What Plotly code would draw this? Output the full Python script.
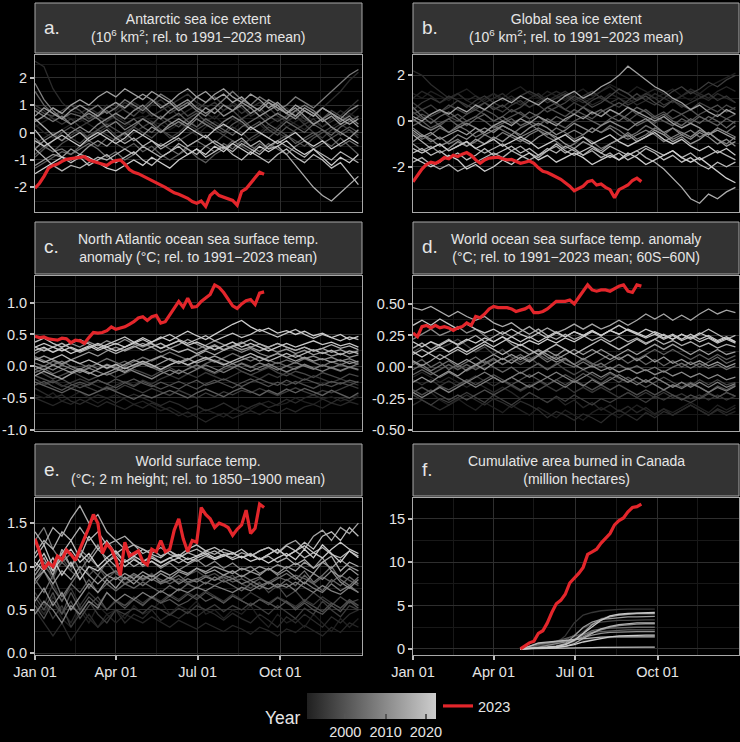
import numpy as np
import pandas as pd
import plotly.graph_objects as go

# ---------------------------------------------------------------------------
# Data (day of year)
# ---------------------------------------------------------------------------
GRAY_DAYS = list(range(1, 362, 10))          # Jan 01 .. Dec 27, every 10 days
RED_DAYS = list(range(1, 257, 5))            # 2023: Jan 01 .. Sep 13, every 5 days
FIRE_GRAY_DAYS = list(range(121, 272, 10))   # May 01 .. Sep 28
FIRE_RED_DAYS = list(range(121, 257, 5))     # May 01 .. Sep 13

# a. Antarctic sea ice extent anomaly
ant_ice_2023 = [-2.03, -1.85, -1.6, -1.3, -1.2, -1.15, -1.05, -0.98, -0.95, -0.92, -0.9, -0.88,
                -1.0, -1.05, -1.1, -1.15, -1.2, -1.08, -1.02, -1.0, -1.15, -1.35, -1.45, -1.5,
                -1.58, -1.65, -1.75, -1.82, -1.9, -2.0, -2.1, -2.2, -2.25, -2.32, -2.4, -2.52,
                -2.58, -2.5, -2.7, -2.3, -2.15, -2.3, -2.35, -2.4, -2.48, -2.65, -2.15, -2.05,
                -1.85, -1.65, -1.45, -1.52]
ant_ice_years = {
    1991: [0.2, 0.4, 0.6, 0.7, 0.5, 0.4, 0.6, 0.5, 0.3, 0.4, 0.2, 0.5, 0.6, 0.4, 0.3, 0.1, 0.3, 0.5, 0.2, 0.4, 0.6, 0.3, 0.1, 0.4, 0.2, 0.0, 0.3, 0.5, 0.2, 0.4, 0.6, 0.3, 0.5, 0.2, 0.4, 0.7, 0.5],
    1992: [0.3, 0.0, -0.2, 0.1, 0.3, 0.5, 0.3, 0.1, 0.4, 0.6, 0.4, 0.2, 0.5, 0.7, 0.5, 0.2, 0.4, 0.1, -0.1, 0.2, 0.4, 0.2, 0.5, 0.3, 0.1, 0.3, 0.0, 0.2, 0.5, 0.3, 0.1, 0.4, 0.2, 0.5, 0.8, 0.6, 0.9],
    1993: [2.6, 2.4, 1.6, 1.1, 0.8, 0.7, 0.9, 0.7, 1.0, 0.8, 1.1, 0.9, 0.7, 1.0, 1.2, 0.9, 0.6, 0.8, 1.0, 0.7, 0.5, 0.8, 1.1, 0.9, 0.6, 0.8, 0.5, 0.7, 0.9, 0.6, 0.4, 0.7, 0.9, 1.2, 1.5, 1.9, 2.2],
    1995: [1.0, 0.8, 0.5, 0.3, 0.5, 0.2, 0.4, 0.6, 0.4, 0.7, 0.9, 1.1, 0.9, 0.6, 0.8, 1.0, 1.2, 1.4, 1.1, 0.9, 1.1, 0.8, 1.0, 0.7, 0.9, 1.1, 0.9, 0.6, 0.4, 0.6, 0.3, 0.5, 0.2, 0.4, 0.6, 0.9, 1.2],
    1996: [-0.4, -0.2, 0.0, -0.3, -0.1, 0.1, -0.2, 0.0, 0.2, -0.1, -0.3, 0.0, 0.2, 0.4, 0.1, -0.2, 0.0, 0.3, 0.1, -0.2, -0.4, -0.1, 0.2, 0.0, -0.3, -0.1, 0.2, 0.0, -0.2, 0.1, 0.3, 0.0, -0.2, 0.1, 0.3, 0.1, -0.1],
    1998: [0.9, 0.7, 0.6, 0.8, 1.0, 0.8, 0.5, 0.7, 0.9, 1.1, 0.8, 0.6, 0.9, 1.2, 1.0, 0.7, 0.9, 0.6, 0.8, 1.1, 1.3, 1.0, 0.8, 0.5, 0.7, 0.9, 0.6, 0.4, 0.6, 0.8, 0.5, 0.3, 0.5, 0.8, 0.6, 0.4, 0.6],
    1999: [-0.8, -0.5, -0.7, -0.4, -0.2, -0.4, -0.1, 0.1, -0.1, -0.3, 0.0, 0.2, 0.0, -0.2, 0.1, -0.1, -0.3, -0.1, 0.1, 0.3, 0.1, -0.1, -0.3, -0.5, -0.2, 0.0, -0.2, 0.1, -0.1, -0.3, -0.5, -0.2, 0.0, 0.2, -0.1, 0.1, -0.2],
    2000: [-0.9, -0.6, -0.3, 0.0, 0.2, 0.0, -0.2, 0.1, 0.3, 0.1, -0.1, 0.2, 0.5, 0.3, 0.6, 0.4, 0.2, 0.5, 0.7, 0.4, 0.2, 0.0, 0.3, 0.5, 0.2, 0.4, 0.1, -0.1, 0.2, 0.0, -0.3, -0.1, 0.1, -0.2, 0.0, 0.2, 0.0],
    2002: [-1.3, -1.1, -0.9, -0.7, -0.8, -0.5, -0.3, -0.5, -0.2, -0.4, -0.6, -0.4, -0.7, -0.5, -0.8, -1.0, -0.8, -0.6, -0.9, -1.1, -0.8, -0.6, -0.3, -0.5, -0.7, -0.4, -0.6, -0.3, -0.1, -0.4, -0.2, 0.0, -0.3, -0.5, -0.2, -0.5, -0.8],
    2003: [1.5, 1.0, 0.7, 0.5, 0.7, 0.6, 0.4, 0.6, 0.8, 0.5, 0.3, 0.5, 0.2, 0.0, 0.3, 0.5, 0.7, 0.4, 0.2, 0.5, 0.3, 0.1, -0.1, 0.2, 0.4, 0.6, 0.3, 0.1, 0.4, 0.2, 0.0, 0.3, 0.1, -0.1, 0.2, 0.4, 0.6],
    2005: [-0.2, -0.5, -0.7, -0.6, -0.8, -0.6, -0.4, -0.6, -0.9, -0.7, -1.0, -0.8, -0.5, -0.7, -0.4, -0.6, -0.8, -0.5, -0.3, -0.5, -0.7, -0.4, -0.6, -0.3, -0.5, -0.7, -0.4, -0.6, -0.8, -0.5, -0.3, -0.6, -0.4, -0.2, -0.5, -0.3, -0.5],
    2007: [0.8, 0.6, 0.4, 0.6, 0.3, 0.5, 0.8, 1.0, 0.7, 0.9, 1.2, 1.0, 0.8, 1.1, 1.4, 1.2, 0.9, 1.1, 0.8, 0.6, 0.9, 1.2, 1.5, 1.2, 1.0, 1.3, 1.1, 0.8, 1.0, 1.3, 1.1, 0.9, 1.2, 1.5, 1.8, 2.1, 2.3],
    2008: [1.8, 1.2, 0.8, 0.5, 0.3, 0.5, 0.7, 0.5, 0.2, 0.4, 0.1, 0.3, 0.5, 0.3, 0.0, 0.2, 0.4, 0.2, 0.5, 0.3, 0.1, 0.4, 0.6, 0.4, 0.1, 0.3, 0.5, 0.7, 0.5, 0.8, 1.0, 0.8, 0.5, 0.7, 0.4, 0.6, 0.3],
    2010: [-0.6, -0.3, -0.1, -0.3, 0.0, 0.2, 0.0, 0.3, 0.5, 0.7, 0.5, 0.8, 1.0, 0.7, 0.5, 0.8, 1.0, 1.2, 0.9, 0.7, 0.9, 0.6, 0.8, 1.0, 0.7, 0.9, 1.2, 1.0, 0.7, 0.5, 0.8, 0.6, 0.9, 0.7, 0.5, 0.8, 1.0],
    2012: [-1.2, -1.0, -0.8, -0.9, -0.6, -0.8, -0.5, -0.3, -0.5, -0.2, 0.0, -0.3, -0.1, 0.2, 0.0, 0.3, 0.5, 0.3, 0.6, 0.9, 0.7, 1.0, 0.8, 1.1, 0.9, 0.6, 0.8, 1.0, 0.7, 0.9, 0.6, 0.3, 0.5, 0.2, 0.0, -0.2, 0.1],
    2013: [0.6, 0.9, 0.7, 0.5, 0.8, 1.0, 0.8, 0.6, 0.9, 1.1, 0.9, 1.2, 1.4, 1.2, 0.9, 1.1, 0.8, 1.0, 1.3, 1.1, 1.4, 1.6, 1.3, 1.1, 1.4, 1.2, 0.9, 1.1, 0.8, 0.6, 0.9, 0.7, 0.4, 0.6, 0.3, 0.5, 0.2],
    2014: [0.4, 0.6, 0.9, 0.7, 1.0, 1.2, 1.0, 1.3, 1.5, 1.3, 1.6, 1.4, 1.2, 1.5, 1.3, 1.1, 1.4, 1.6, 1.3, 1.5, 1.2, 1.4, 1.1, 1.3, 1.0, 0.8, 1.1, 0.9, 0.7, 1.0, 0.8, 0.6, 0.9, 0.7, 0.5, 0.3, 0.5],
    2016: [0.5, 0.2, -0.1, 0.1, -0.2, 0.0, -0.3, -0.1, 0.1, -0.2, -0.4, -0.2, -0.5, -0.3, -0.6, -0.4, -0.2, -0.5, -0.3, -0.1, -0.4, -0.6, -0.4, -0.2, -0.5, -0.3, -0.6, -0.5, -0.8, -1.2, -1.6, -2.0, -2.3, -2.5, -2.2, -1.9, -1.6],
    2017: [-0.6, -0.9, -1.2, -1.4, -1.2, -1.3, -1.1, -0.9, -1.0, -0.8, -0.6, -0.8, -0.5, -0.7, -0.9, -0.7, -0.4, -0.6, -0.8, -0.5, -0.3, -0.5, -0.7, -0.4, -0.6, -0.8, -0.5, -0.3, -0.5, -0.7, -0.9, -0.6, -0.8, -1.0, -0.7, -0.9, -1.1],
    2019: [0.1, -0.3, -0.6, -0.9, -1.1, -0.9, -1.2, -1.0, -0.8, -1.1, -0.9, -0.7, -1.0, -1.2, -0.9, -0.7, -0.5, -0.8, -0.6, -0.9, -0.7, -0.5, -0.8, -1.0, -0.7, -0.9, -1.1, -0.8, -0.6, -0.9, -1.1, -0.8, -1.0, -1.3, -1.1, -1.5, -1.9],
    2021: [-0.3, -0.5, -0.3, -0.1, -0.3, -0.5, -0.2, 0.0, -0.2, -0.4, -0.2, 0.1, -0.1, -0.3, -0.5, -0.3, -0.1, 0.2, 0.0, -0.2, 0.1, 0.3, 0.1, -0.1, 0.2, 0.0, -0.2, -0.4, -0.2, 0.0, -0.3, -0.5, -0.3, -0.6, -0.4, -0.2, -0.4],
    2022: [-1.5, -1.3, -1.1, -0.9, -1.0, -0.8, -0.9, -1.1, -1.3, -1.4, -1.2, -1.0, -1.2, -0.9, -1.1, -1.3, -1.0, -0.8, -0.6, -0.8, -0.5, -0.7, -0.4, -0.6, -0.8, -0.5, -0.7, -0.5, -0.3, -0.6, -0.8, -0.6, -0.9, -1.2, -0.9, -1.1, -0.8],
}

# b. Global sea ice extent anomaly
glob_ice_2023 = [-2.66, -2.35, -2.1, -1.9, -1.8, -1.85, -1.75, -1.6, -1.65, -1.5, -1.55, -1.45,
                 -1.38, -1.5, -1.7, -1.85, -1.7, -1.62, -1.6, -1.58, -1.65, -1.7, -1.68, -1.75,
                 -1.85, -1.8, -1.75, -1.85, -2.05, -2.2, -2.25, -2.35, -2.45, -2.55, -2.7, -2.85,
                 -3.05, -2.95, -2.85, -2.65, -2.6, -2.8, -2.75, -2.9, -3.0, -3.35, -3.0, -2.9,
                 -2.8, -2.6, -2.5, -2.65]
glob_ice_years = {
    1991: [1.2, 1.0, 1.3, 1.1, 0.9, 1.2, 1.4, 1.1, 0.9, 1.2, 1.0, 1.3, 1.5, 1.2, 1.0, 1.3, 1.1, 0.9, 1.2, 1.4, 1.1, 1.3, 1.6, 1.4, 1.2, 1.5, 1.3, 1.0, 1.2, 1.4, 1.1, 0.9, 1.2, 1.5, 1.7, 1.9, 2.1],
    1992: [1.0, 1.3, 1.1, 0.8, 1.0, 1.2, 0.9, 0.7, 1.0, 1.2, 0.9, 1.1, 0.8, 0.6, 0.9, 1.1, 1.3, 1.1, 0.8, 1.0, 0.7, 0.9, 1.2, 1.0, 0.8, 1.0, 1.2, 1.4, 1.2, 0.9, 1.1, 1.4, 1.2, 1.0, 1.3, 1.5, 1.3],
    1993: [2.2, 2.0, 1.6, 1.3, 1.0, 1.2, 0.9, 1.1, 0.8, 1.0, 1.2, 0.9, 0.7, 1.0, 1.2, 0.9, 1.1, 1.3, 1.0, 0.8, 1.0, 1.3, 1.5, 1.2, 1.0, 0.7, 0.9, 1.2, 1.0, 0.8, 1.1, 1.3, 1.1, 0.9, 1.2, 1.0, 0.8],
    1995: [0.5, 0.8, 1.0, 0.8, 1.1, 0.9, 0.6, 0.9, 1.1, 0.8, 0.6, 0.9, 1.1, 1.3, 1.1, 0.8, 1.0, 1.2, 0.9, 1.1, 1.3, 1.0, 0.8, 1.0, 0.7, 0.9, 1.2, 1.0, 0.7, 0.9, 0.6, 0.8, 1.0, 1.2, 0.9, 1.1, 0.8],
    1996: [0.8, 0.5, 0.7, 0.4, 0.6, 0.9, 0.7, 0.5, 0.8, 0.6, 0.4, 0.7, 0.9, 0.6, 0.8, 1.0, 0.7, 0.5, 0.8, 0.6, 0.9, 1.1, 0.8, 0.6, 0.9, 1.2, 0.9, 0.7, 1.0, 1.3, 1.5, 1.2, 1.4, 1.7, 1.5, 1.8, 2.0],
    1998: [0.3, 0.5, 0.2, 0.4, 0.7, 0.5, 0.3, 0.6, 0.8, 0.5, 0.7, 0.4, 0.6, 0.9, 0.7, 0.4, 0.6, 0.8, 1.1, 0.9, 0.6, 0.8, 1.1, 1.4, 1.2, 0.9, 1.1, 0.8, 0.6, 0.9, 0.7, 0.5, 0.8, 0.6, 0.4, 0.7, 0.5],
    1999: [0.4, 0.1, 0.3, 0.5, 0.2, 0.0, 0.3, 0.5, 0.3, 0.0, 0.2, 0.5, 0.3, 0.1, 0.3, 0.6, 0.8, 0.5, 0.3, 0.6, 0.4, 0.2, 0.5, 0.3, 0.0, 0.3, 0.1, -0.1, 0.2, 0.5, 0.3, 0.0, 0.3, 0.5, 0.7, 0.4, 0.6],
    2000: [0.0, 0.3, 0.1, -0.2, 0.1, 0.3, 0.0, 0.2, 0.5, 0.3, 0.0, 0.2, 0.4, 0.1, 0.3, 0.6, 0.4, 0.2, 0.5, 0.3, 0.1, 0.4, 0.6, 0.8, 0.6, 0.3, 0.5, 0.2, 0.4, 0.1, 0.3, 0.5, 0.2, 0.0, 0.3, 0.1, 0.3],
    2002: [-0.2, 0.0, -0.3, -0.1, 0.1, -0.2, 0.0, 0.2, 0.0, -0.3, -0.1, 0.1, -0.2, 0.0, -0.2, 0.1, -0.1, -0.3, 0.0, 0.2, 0.0, -0.2, 0.1, 0.3, 0.1, -0.2, 0.0, 0.2, 0.0, -0.2, 0.1, -0.1, 0.2, 0.0, -0.2, 0.1, -0.1],
    2003: [0.6, 0.2, -0.1, 0.2, 0.4, 0.1, -0.2, 0.1, 0.3, 0.0, 0.2, -0.1, 0.1, 0.4, 0.2, -0.1, 0.2, 0.0, 0.3, 0.6, 0.3, 0.5, 0.2, 0.0, 0.3, 0.6, 0.4, 0.1, 0.3, 0.0, -0.2, 0.1, -0.1, 0.2, 0.0, -0.3, 0.0],
    2005: [-0.5, -0.8, -0.6, -0.3, -0.5, -0.2, -0.4, -0.7, -0.5, -0.2, -0.4, -0.6, -0.3, -0.1, -0.4, -0.6, -0.3, -0.5, -0.8, -0.6, -0.3, -0.5, -0.2, -0.4, -0.7, -0.5, -0.2, -0.4, -0.6, -0.3, -0.5, -0.7, -0.4, -0.6, -0.3, -0.5, -0.2],
    2007: [-0.3, -0.6, -0.9, -0.7, -1.0, -0.8, -1.1, -0.9, -0.6, -0.8, -0.5, -0.7, -0.9, -0.6, -0.4, -0.7, -0.9, -1.2, -1.0, -0.7, -0.9, -1.2, -1.0, -0.8, -0.5, -0.8, -0.6, -0.3, -0.5, -0.8, -0.6, -0.4, -0.7, -0.5, -0.8, -1.0, -0.7],
    2008: [0.1, -0.2, -0.4, -0.2, -0.5, -0.3, -0.1, -0.3, -0.6, -0.4, -0.2, -0.4, -0.7, -0.5, -0.3, -0.5, -0.8, -0.6, -0.4, -0.6, -0.3, -0.5, -0.3, -0.6, -0.8, -0.6, -0.4, -0.6, -0.9, -0.7, -0.5, -0.7, -0.4, -0.6, -0.3, -0.5, -0.7],
    2010: [-0.9, -0.6, -0.8, -1.1, -0.9, -0.6, -0.8, -0.5, -0.3, -0.5, -0.2, -0.4, -0.6, -0.3, -0.1, -0.3, -0.6, -0.4, -0.1, -0.3, -0.5, -0.2, 0.0, -0.2, -0.4, -0.1, 0.1, -0.2, -0.5, -0.3, -0.6, -0.8, -0.5, -0.7, -1.0, -0.8, -1.1],
    2012: [-1.0, -1.3, -1.1, -1.4, -1.2, -0.9, -1.1, -0.8, -1.0, -0.7, -0.9, -0.6, -0.8, -1.0, -0.7, -0.5, -0.7, -1.0, -1.2, -0.9, -1.1, -1.3, -1.0, -0.8, -0.6, -0.9, -0.7, -0.4, -0.6, -0.9, -0.7, -1.0, -0.8, -0.5, -0.8, -1.1, -0.9],
    2013: [-0.4, -0.7, -0.5, -0.8, -0.6, -0.4, -0.6, -0.3, -0.5, -0.2, 0.0, -0.2, 0.1, -0.1, 0.2, 0.0, -0.2, 0.1, 0.3, 0.1, 0.4, 0.2, 0.5, 0.3, 0.6, 0.4, 0.2, 0.0, 0.2, -0.1, -0.3, -0.1, -0.3, -0.6, -0.4, -0.6, -0.8],
    2014: [0.2, 0.0, 0.3, 0.5, 0.3, 0.6, 0.4, 0.7, 0.5, 0.8, 1.0, 0.8, 1.1, 0.9, 0.7, 1.0, 0.8, 1.1, 1.3, 1.0, 1.2, 1.5, 1.7, 2.0, 2.4, 2.1, 1.8, 1.5, 1.3, 1.0, 0.8, 0.5, 0.7, 0.4, 0.2, 0.5, 0.3],
    2016: [-0.6, -0.9, -1.2, -1.0, -1.3, -1.1, -0.9, -1.2, -1.4, -1.2, -1.0, -1.3, -1.1, -1.4, -1.6, -1.3, -1.1, -1.4, -1.2, -1.5, -1.3, -1.6, -1.4, -1.7, -1.5, -1.3, -1.6, -1.8, -2.1, -2.5, -2.9, -3.4, -3.6, -3.2, -3.4, -3.1, -2.9],
    2017: [-1.8, -1.6, -1.9, -2.1, -1.9, -2.2, -2.0, -1.8, -1.6, -1.4, -1.6, -1.3, -1.5, -1.7, -1.5, -1.2, -1.4, -1.1, -1.3, -1.5, -1.2, -1.4, -1.1, -1.3, -1.5, -1.3, -1.1, -1.3, -1.5, -1.3, -1.6, -1.4, -1.7, -1.5, -1.3, -1.5, -1.7],
    2019: [-1.4, -1.2, -1.5, -1.3, -1.6, -1.4, -1.7, -1.5, -1.2, -1.5, -1.3, -1.1, -1.4, -1.2, -1.5, -1.3, -1.0, -1.3, -1.5, -1.3, -1.1, -1.4, -1.6, -1.4, -1.7, -1.5, -1.2, -1.4, -1.7, -1.5, -1.8, -1.6, -1.9, -2.1, -1.8, -2.0, -1.8],
    2021: [-1.2, -1.4, -1.2, -1.0, -1.3, -1.1, -0.9, -1.2, -1.0, -0.8, -1.1, -0.9, -0.7, -0.9, -1.2, -1.0, -0.8, -0.6, -0.9, -0.7, -1.0, -0.8, -0.6, -0.9, -1.1, -0.9, -0.7, -0.5, -0.8, -1.0, -0.8, -1.1, -1.3, -1.1, -1.4, -1.2, -1.5],
    2022: [-1.6, -1.8, -2.0, -1.8, -1.5, -1.7, -2.1, -1.9, -2.2, -2.0, -1.7, -1.9, -1.6, -1.4, -1.7, -1.5, -1.8, -1.6, -1.4, -1.6, -1.9, -1.7, -1.5, -1.7, -1.4, -1.6, -1.9, -1.7, -1.5, -1.3, -1.6, -1.8, -1.6, -1.9, -2.2, -2.5, -2.7],
}

# c. North Atlantic sea surface temperature anomaly
natl_sst_2023 = [0.47, 0.45, 0.46, 0.43, 0.42, 0.41, 0.44, 0.43, 0.37, 0.41, 0.4, 0.36,
                 0.45, 0.53, 0.52, 0.53, 0.56, 0.62, 0.58, 0.6, 0.62, 0.66, 0.7, 0.76,
                 0.78, 0.72, 0.78, 0.8, 0.68, 0.7, 0.8, 0.92, 1.02, 0.93, 1.07, 0.93,
                 0.94, 1.02, 1.08, 1.13, 1.28, 1.24, 1.16, 1.05, 0.95, 0.91, 0.98, 1.03,
                 1.05, 0.97, 1.15, 1.17]
natl_sst_years = {
    1991: [-0.45, -0.5, -0.42, -0.55, -0.48, -0.4, -0.5, -0.58, -0.5, -0.45, -0.52, -0.6, -0.55, -0.62, -0.7, -0.65, -0.72, -0.8, -0.75, -0.68, -0.74, -0.8, -0.7, -0.62, -0.68, -0.6, -0.55, -0.62, -0.58, -0.5, -0.56, -0.6, -0.52, -0.48, -0.55, -0.5, -0.45],
    1992: [-0.5, -0.56, -0.62, -0.55, -0.6, -0.52, -0.58, -0.64, -0.56, -0.62, -0.68, -0.6, -0.66, -0.58, -0.64, -0.7, -0.78, -0.72, -0.8, -0.88, -0.8, -0.74, -0.82, -0.76, -0.7, -0.76, -0.68, -0.74, -0.66, -0.72, -0.64, -0.6, -0.66, -0.58, -0.62, -0.56, -0.6],
    1993: [-0.35, -0.42, -0.5, -0.45, -0.55, -0.6, -0.52, -0.45, -0.5, -0.58, -0.5, -0.44, -0.5, -0.56, -0.62, -0.55, -0.6, -0.68, -0.62, -0.7, -0.65, -0.58, -0.66, -0.72, -0.64, -0.58, -0.65, -0.6, -0.52, -0.58, -0.5, -0.45, -0.52, -0.58, -0.5, -0.55, -0.48],
    1995: [-0.25, -0.3, -0.24, -0.32, -0.26, -0.2, -0.26, -0.32, -0.38, -0.3, -0.24, -0.3, -0.22, -0.28, -0.2, -0.14, -0.2, -0.12, -0.18, -0.1, -0.16, -0.22, -0.15, -0.08, -0.14, -0.2, -0.12, -0.18, -0.1, -0.16, -0.22, -0.15, -0.2, -0.26, -0.2, -0.25, -0.3],
    1996: [-0.2, -0.28, -0.22, -0.3, -0.35, -0.28, -0.34, -0.4, -0.32, -0.38, -0.3, -0.36, -0.42, -0.35, -0.4, -0.46, -0.38, -0.44, -0.5, -0.42, -0.48, -0.4, -0.45, -0.38, -0.42, -0.35, -0.4, -0.46, -0.4, -0.34, -0.4, -0.45, -0.38, -0.42, -0.36, -0.3, -0.35],
    1998: [-0.05, -0.12, -0.2, -0.14, -0.08, -0.15, -0.22, -0.16, -0.1, -0.18, -0.12, -0.05, -0.1, -0.16, -0.08, -0.02, -0.1, -0.05, 0.02, -0.06, -0.12, -0.05, 0.0, -0.08, -0.14, -0.08, -0.02, -0.1, -0.15, -0.08, -0.12, -0.18, -0.1, -0.15, -0.2, -0.12, -0.16],
    1999: [-0.15, -0.2, -0.26, -0.2, -0.28, -0.34, -0.28, -0.22, -0.28, -0.2, -0.26, -0.32, -0.24, -0.3, -0.36, -0.3, -0.24, -0.3, -0.36, -0.28, -0.22, -0.28, -0.34, -0.26, -0.2, -0.26, -0.32, -0.25, -0.3, -0.24, -0.3, -0.35, -0.28, -0.32, -0.26, -0.3, -0.24],
    2000: [-0.3, -0.24, -0.32, -0.38, -0.3, -0.25, -0.3, -0.22, -0.28, -0.34, -0.26, -0.2, -0.27, -0.32, -0.25, -0.3, -0.36, -0.28, -0.22, -0.3, -0.26, -0.2, -0.26, -0.32, -0.25, -0.2, -0.26, -0.3, -0.22, -0.28, -0.2, -0.25, -0.3, -0.24, -0.28, -0.22, -0.26],
    2002: [-0.25, -0.3, -0.36, -0.42, -0.35, -0.4, -0.46, -0.4, -0.34, -0.4, -0.46, -0.52, -0.45, -0.5, -0.44, -0.38, -0.44, -0.5, -0.42, -0.36, -0.42, -0.48, -0.4, -0.34, -0.4, -0.46, -0.38, -0.44, -0.36, -0.42, -0.35, -0.4, -0.46, -0.38, -0.44, -0.5, -0.42],
    2003: [-0.1, -0.04, -0.12, -0.06, 0.0, -0.08, -0.02, 0.04, -0.04, 0.02, 0.08, 0.0, 0.06, 0.0, -0.06, 0.02, 0.08, 0.02, -0.04, 0.04, 0.1, 0.04, -0.02, 0.05, 0.0, -0.06, 0.0, 0.06, 0.0, -0.05, 0.02, -0.04, 0.02, -0.03, -0.08, -0.02, -0.06],
    2005: [0.05, 0.0, 0.08, 0.02, 0.1, 0.04, -0.02, 0.05, 0.12, 0.06, 0.0, 0.07, 0.14, 0.08, 0.15, 0.22, 0.16, 0.1, 0.18, 0.12, 0.06, 0.13, 0.2, 0.14, 0.08, 0.15, 0.1, 0.04, 0.1, 0.05, 0.12, 0.06, 0.0, 0.07, 0.02, 0.08, 0.03],
    2007: [0.15, 0.08, 0.02, 0.08, 0.0, -0.05, 0.02, -0.04, 0.03, -0.02, -0.08, -0.02, 0.04, -0.02, -0.08, -0.14, -0.06, -0.12, -0.05, 0.02, -0.04, -0.1, -0.03, 0.04, -0.02, 0.05, 0.0, -0.06, 0.0, 0.06, 0.0, -0.05, 0.02, -0.03, 0.03, -0.02, 0.04],
    2008: [-0.05, 0.0, -0.06, 0.02, -0.04, -0.1, -0.03, -0.08, -0.14, -0.08, -0.02, -0.08, -0.14, -0.2, -0.12, -0.06, -0.12, -0.04, 0.02, -0.04, -0.1, -0.02, 0.04, -0.02, -0.08, -0.02, 0.04, -0.03, -0.09, -0.03, 0.03, -0.03, -0.08, -0.02, -0.07, -0.01, -0.05],
    2010: [0.2, 0.28, 0.22, 0.3, 0.36, 0.3, 0.38, 0.32, 0.4, 0.34, 0.42, 0.35, 0.3, 0.36, 0.28, 0.34, 0.4, 0.32, 0.26, 0.33, 0.4, 0.34, 0.28, 0.22, 0.28, 0.2, 0.15, 0.2, 0.14, 0.18, 0.12, 0.16, 0.1, 0.14, 0.08, 0.12, 0.06],
    2012: [0.1, 0.16, 0.1, 0.04, 0.1, 0.16, 0.22, 0.16, 0.24, 0.3, 0.24, 0.3, 0.36, 0.3, 0.22, 0.28, 0.34, 0.42, 0.35, 0.28, 0.34, 0.26, 0.32, 0.38, 0.3, 0.35, 0.28, 0.22, 0.27, 0.2, 0.25, 0.18, 0.22, 0.16, 0.2, 0.14, 0.18],
    2013: [0.0, -0.06, 0.02, -0.04, -0.1, -0.04, -0.1, -0.16, -0.1, -0.04, -0.1, -0.02, 0.04, -0.02, 0.05, 0.12, 0.06, 0.12, 0.05, 0.1, 0.16, 0.1, 0.04, 0.1, 0.15, 0.08, 0.14, 0.2, 0.14, 0.08, 0.14, 0.08, 0.12, 0.06, 0.1, 0.04, 0.08],
    2014: [-0.15, -0.08, -0.14, -0.2, -0.12, -0.06, -0.12, -0.05, 0.02, -0.04, 0.03, 0.1, 0.04, 0.1, 0.16, 0.1, 0.04, 0.1, 0.17, 0.24, 0.18, 0.25, 0.32, 0.26, 0.3, 0.24, 0.3, 0.36, 0.3, 0.25, 0.3, 0.24, 0.28, 0.22, 0.26, 0.2, 0.24],
    2017: [0.3, 0.24, 0.3, 0.36, 0.28, 0.22, 0.28, 0.34, 0.26, 0.2, 0.26, 0.32, 0.25, 0.3, 0.36, 0.28, 0.22, 0.27, 0.2, 0.26, 0.32, 0.25, 0.3, 0.36, 0.42, 0.35, 0.3, 0.36, 0.3, 0.25, 0.3, 0.24, 0.28, 0.34, 0.28, 0.32, 0.26],
    2018: [0.12, 0.06, 0.12, 0.18, 0.1, 0.04, 0.1, 0.03, -0.03, 0.03, -0.04, 0.02, 0.08, 0.02, -0.05, 0.02, 0.08, 0.02, 0.08, 0.14, 0.08, 0.02, 0.08, 0.14, 0.2, 0.14, 0.08, 0.14, 0.2, 0.14, 0.2, 0.26, 0.2, 0.25, 0.18, 0.24, 0.2],
    2020: [0.38, 0.44, 0.36, 0.3, 0.36, 0.42, 0.35, 0.28, 0.34, 0.4, 0.46, 0.38, 0.32, 0.38, 0.44, 0.5, 0.42, 0.36, 0.42, 0.48, 0.4, 0.46, 0.52, 0.45, 0.5, 0.58, 0.52, 0.46, 0.52, 0.58, 0.5, 0.44, 0.5, 0.45, 0.4, 0.46, 0.42],
    2021: [0.3, 0.36, 0.3, 0.24, 0.3, 0.24, 0.3, 0.36, 0.3, 0.24, 0.3, 0.36, 0.42, 0.35, 0.28, 0.34, 0.4, 0.33, 0.38, 0.32, 0.26, 0.32, 0.38, 0.3, 0.36, 0.3, 0.24, 0.3, 0.36, 0.3, 0.35, 0.4, 0.34, 0.38, 0.32, 0.36, 0.3],
    2022: [0.25, 0.3, 0.22, 0.28, 0.2, 0.26, 0.32, 0.25, 0.3, 0.36, 0.3, 0.38, 0.45, 0.38, 0.46, 0.4, 0.48, 0.55, 0.48, 0.42, 0.5, 0.58, 0.66, 0.72, 0.62, 0.55, 0.6, 0.52, 0.56, 0.5, 0.55, 0.48, 0.52, 0.45, 0.5, 0.42, 0.47],
}

# d. World ocean sea surface temperature anomaly (60S-60N)
world_sst_2023 = [0.27, 0.24, 0.32, 0.33, 0.31, 0.33, 0.31, 0.32, 0.31, 0.29, 0.31, 0.32,
                  0.35, 0.33, 0.4, 0.39, 0.42, 0.46, 0.48, 0.47, 0.47, 0.47, 0.46, 0.44,
                  0.45, 0.46, 0.48, 0.43, 0.43, 0.44, 0.46, 0.49, 0.52, 0.52, 0.52, 0.53,
                  0.5, 0.55, 0.6, 0.65, 0.61, 0.6, 0.61, 0.61, 0.6, 0.62, 0.64, 0.65,
                  0.6, 0.59, 0.65, 0.64]
world_sst_years = {
    1991: [-0.2, -0.24, -0.2, -0.26, -0.3, -0.25, -0.3, -0.34, -0.28, -0.32, -0.36, -0.3, -0.34, -0.38, -0.32, -0.36, -0.4, -0.34, -0.38, -0.42, -0.36, -0.32, -0.36, -0.4, -0.35, -0.3, -0.34, -0.38, -0.33, -0.36, -0.32, -0.28, -0.32, -0.36, -0.3, -0.34, -0.3],
    1992: [-0.08, -0.04, -0.08, -0.12, -0.08, -0.12, -0.16, -0.12, -0.16, -0.2, -0.16, -0.2, -0.25, -0.2, -0.24, -0.28, -0.24, -0.3, -0.26, -0.32, -0.28, -0.34, -0.3, -0.35, -0.31, -0.36, -0.32, -0.37, -0.33, -0.38, -0.34, -0.3, -0.34, -0.38, -0.34, -0.38, -0.35],
    1993: [-0.3, -0.26, -0.3, -0.34, -0.3, -0.26, -0.22, -0.26, -0.3, -0.25, -0.28, -0.32, -0.27, -0.3, -0.34, -0.4, -0.35, -0.38, -0.42, -0.37, -0.4, -0.44, -0.38, -0.34, -0.38, -0.42, -0.36, -0.4, -0.35, -0.38, -0.34, -0.3, -0.34, -0.38, -0.33, -0.36, -0.32],
    1995: [-0.1, -0.14, -0.1, -0.15, -0.11, -0.15, -0.11, -0.07, -0.11, -0.15, -0.11, -0.15, -0.19, -0.15, -0.11, -0.15, -0.19, -0.15, -0.2, -0.16, -0.2, -0.16, -0.2, -0.24, -0.2, -0.24, -0.2, -0.24, -0.2, -0.24, -0.21, -0.25, -0.22, -0.26, -0.22, -0.26, -0.23],
    1996: [-0.22, -0.26, -0.3, -0.25, -0.28, -0.24, -0.2, -0.24, -0.28, -0.22, -0.26, -0.3, -0.25, -0.2, -0.24, -0.28, -0.23, -0.27, -0.22, -0.26, -0.3, -0.25, -0.28, -0.24, -0.2, -0.24, -0.28, -0.23, -0.26, -0.22, -0.25, -0.28, -0.24, -0.2, -0.24, -0.2, -0.23],
    1998: [0.12, 0.16, 0.2, 0.15, 0.18, 0.22, 0.17, 0.12, 0.16, 0.1, 0.14, 0.08, 0.04, 0.08, 0.02, -0.02, 0.03, -0.02, -0.06, -0.02, -0.06, -0.1, -0.05, -0.09, -0.12, -0.08, -0.12, -0.08, -0.12, -0.16, -0.12, -0.15, -0.1, -0.14, -0.1, -0.14, -0.12],
    1999: [-0.18, -0.22, -0.18, -0.22, -0.26, -0.22, -0.26, -0.22, -0.18, -0.22, -0.18, -0.14, -0.18, -0.14, -0.18, -0.14, -0.1, -0.14, -0.1, -0.14, -0.18, -0.14, -0.18, -0.14, -0.18, -0.22, -0.18, -0.22, -0.18, -0.22, -0.26, -0.22, -0.25, -0.21, -0.24, -0.2, -0.23],
    2000: [-0.2, -0.16, -0.2, -0.15, -0.18, -0.14, -0.1, -0.14, -0.1, -0.06, -0.1, -0.14, -0.1, -0.06, -0.1, -0.14, -0.1, -0.06, -0.1, -0.05, -0.09, -0.13, -0.08, -0.12, -0.08, -0.12, -0.16, -0.12, -0.08, -0.12, -0.16, -0.12, -0.16, -0.2, -0.15, -0.18, -0.14],
    2002: [-0.06, -0.02, -0.06, -0.02, 0.02, -0.02, 0.02, -0.02, 0.02, 0.06, 0.02, 0.06, 0.02, 0.06, 0.1, 0.06, 0.1, 0.06, 0.02, 0.06, 0.02, 0.06, 0.1, 0.06, 0.1, 0.06, 0.1, 0.14, 0.1, 0.14, 0.1, 0.06, 0.1, 0.06, 0.1, 0.06, 0.09],
    2003: [0.02, 0.06, 0.0, 0.04, -0.02, 0.02, -0.03, 0.01, 0.05, 0.0, -0.04, 0.0, -0.05, -0.01, 0.03, -0.02, 0.02, 0.06, 0.02, 0.07, 0.03, 0.0, 0.04, 0.08, 0.03, 0.07, 0.02, 0.06, 0.01, 0.05, 0.0, 0.04, 0.0, 0.04, 0.08, 0.03, 0.06],
    2005: [-0.02, 0.02, -0.03, 0.01, 0.05, 0.0, 0.04, 0.08, 0.03, 0.07, 0.02, 0.06, 0.1, 0.05, 0.09, 0.04, 0.08, 0.03, 0.0, 0.04, 0.0, 0.03, -0.02, 0.02, -0.02, 0.01, -0.03, 0.0, -0.04, 0.0, 0.03, -0.01, 0.03, -0.01, 0.02, -0.02, 0.01],
    2007: [0.04, 0.0, -0.04, -0.08, -0.04, -0.08, -0.12, -0.08, -0.04, -0.08, -0.12, -0.08, -0.12, -0.16, -0.12, -0.08, -0.12, -0.16, -0.11, -0.15, -0.1, -0.14, -0.1, -0.06, -0.1, -0.14, -0.1, -0.14, -0.18, -0.14, -0.17, -0.13, -0.16, -0.2, -0.16, -0.19, -0.15],
    2008: [-0.2, -0.24, -0.2, -0.16, -0.2, -0.16, -0.12, -0.16, -0.12, -0.08, -0.12, -0.08, -0.04, -0.08, -0.04, -0.08, -0.04, -0.08, -0.12, -0.08, -0.04, -0.08, -0.04, -0.08, -0.12, -0.08, -0.12, -0.08, -0.12, -0.16, -0.12, -0.16, -0.12, -0.16, -0.12, -0.16, -0.13],
    2010: [0.22, 0.26, 0.3, 0.25, 0.28, 0.32, 0.27, 0.3, 0.25, 0.2, 0.24, 0.18, 0.14, 0.1, 0.13, 0.08, 0.04, 0.07, 0.02, -0.02, 0.01, -0.03, 0.0, -0.04, -0.01, -0.05, -0.02, -0.06, -0.03, -0.07, -0.04, -0.08, -0.05, -0.09, -0.06, -0.1, -0.08],
    2012: [-0.12, -0.08, -0.12, -0.07, -0.03, -0.07, -0.02, 0.02, -0.02, 0.03, 0.07, 0.03, 0.08, 0.04, 0.09, 0.13, 0.09, 0.14, 0.1, 0.06, 0.1, 0.14, 0.1, 0.06, 0.1, 0.05, 0.09, 0.04, 0.08, 0.03, 0.06, 0.02, 0.05, 0.01, 0.04, 0.0, 0.03],
    2013: [0.05, 0.01, 0.05, 0.1, 0.06, 0.02, 0.06, 0.02, 0.06, 0.1, 0.06, 0.1, 0.06, 0.1, 0.14, 0.1, 0.06, 0.1, 0.14, 0.1, 0.14, 0.1, 0.06, 0.1, 0.14, 0.1, 0.14, 0.18, 0.14, 0.18, 0.14, 0.1, 0.14, 0.1, 0.14, 0.1, 0.12],
    2015: [0.15, 0.19, 0.14, 0.18, 0.22, 0.17, 0.21, 0.25, 0.2, 0.24, 0.28, 0.24, 0.28, 0.32, 0.27, 0.31, 0.27, 0.3, 0.34, 0.3, 0.34, 0.3, 0.33, 0.37, 0.33, 0.37, 0.42, 0.38, 0.42, 0.37, 0.41, 0.37, 0.42, 0.46, 0.42, 0.45, 0.43],
    2016: [0.47, 0.45, 0.48, 0.44, 0.4, 0.44, 0.4, 0.37, 0.4, 0.35, 0.32, 0.35, 0.3, 0.26, 0.3, 0.25, 0.22, 0.26, 0.22, 0.25, 0.21, 0.24, 0.2, 0.24, 0.2, 0.23, 0.19, 0.22, 0.18, 0.21, 0.17, 0.2, 0.16, 0.19, 0.15, 0.18, 0.16],
    2018: [0.1, 0.14, 0.1, 0.06, 0.1, 0.14, 0.1, 0.14, 0.18, 0.14, 0.1, 0.14, 0.18, 0.14, 0.1, 0.14, 0.18, 0.14, 0.1, 0.14, 0.18, 0.22, 0.18, 0.14, 0.18, 0.22, 0.18, 0.22, 0.26, 0.22, 0.26, 0.22, 0.26, 0.3, 0.26, 0.22, 0.25],
    2020: [0.33, 0.37, 0.33, 0.38, 0.34, 0.3, 0.34, 0.3, 0.27, 0.3, 0.26, 0.3, 0.26, 0.23, 0.27, 0.23, 0.27, 0.24, 0.28, 0.25, 0.29, 0.25, 0.29, 0.26, 0.3, 0.26, 0.23, 0.26, 0.22, 0.25, 0.21, 0.24, 0.2, 0.23, 0.19, 0.22, 0.19],
    2021: [0.12, 0.08, 0.12, 0.16, 0.12, 0.16, 0.12, 0.16, 0.2, 0.16, 0.2, 0.24, 0.2, 0.24, 0.2, 0.24, 0.28, 0.24, 0.28, 0.25, 0.29, 0.25, 0.29, 0.33, 0.29, 0.26, 0.3, 0.27, 0.23, 0.26, 0.22, 0.26, 0.22, 0.25, 0.21, 0.24, 0.2],
    2022: [0.2, 0.16, 0.2, 0.17, 0.21, 0.18, 0.22, 0.19, 0.23, 0.2, 0.24, 0.2, 0.17, 0.21, 0.18, 0.22, 0.19, 0.23, 0.2, 0.24, 0.28, 0.25, 0.29, 0.26, 0.3, 0.27, 0.24, 0.28, 0.25, 0.22, 0.26, 0.23, 0.27, 0.24, 0.2, 0.23, 0.2],
}

# e. World surface air temperature (rel. to 1850-1900)
surf_temp_2023 = [1.32, 1.17, 0.97, 1.04, 1.0, 1.12, 1.08, 1.19, 1.14, 1.07, 1.2, 1.32,
                  1.45, 1.6, 1.5, 1.15, 1.26, 1.2, 1.08, 0.9, 1.28, 1.12, 1.15, 1.18,
                  1.06, 1.02, 1.2, 1.17, 1.3, 1.17, 1.2, 1.42, 1.55, 1.32, 1.17, 1.3,
                  1.28, 1.68, 1.6, 1.55, 1.45, 1.5, 1.48, 1.45, 1.36, 1.43, 1.48, 1.65,
                  1.38, 1.44, 1.72, 1.68]
surf_temp_years = {
    1991: [0.55, 0.45, 0.6, 0.4, 0.3, 0.5, 0.35, 0.55, 0.45, 0.5, 0.4, 0.55, 0.45, 0.5, 0.6, 0.45, 0.55, 0.5, 0.6, 0.45, 0.5, 0.4, 0.5, 0.45, 0.55, 0.4, 0.3, 0.45, 0.35, 0.4, 0.3, 0.45, 0.35, 0.25, 0.4, 0.3, 0.4],
    1992: [0.6, 0.45, 0.65, 0.5, 0.35, 0.55, 0.4, 0.3, 0.45, 0.35, 0.45, 0.4, 0.35, 0.42, 0.36, 0.3, 0.38, 0.33, 0.28, 0.35, 0.3, 0.25, 0.32, 0.28, 0.22, 0.3, 0.26, 0.2, 0.28, 0.24, 0.32, 0.26, 0.2, 0.3, 0.24, 0.35, 0.3],
    1993: [0.5, 0.35, 0.2, 0.35, 0.15, 0.3, 0.45, 0.3, 0.4, 0.5, 0.35, 0.45, 0.4, 0.5, 0.38, 0.45, 0.4, 0.48, 0.42, 0.5, 0.45, 0.38, 0.46, 0.4, 0.35, 0.45, 0.38, 0.3, 0.42, 0.35, 0.45, 0.38, 0.3, 0.42, 0.35, 0.45, 0.5],
    1995: [0.7, 0.55, 0.8, 0.6, 0.75, 0.55, 0.7, 0.6, 0.5, 0.62, 0.55, 0.65, 0.58, 0.66, 0.6, 0.68, 0.62, 0.7, 0.64, 0.72, 0.66, 0.6, 0.68, 0.62, 0.7, 0.64, 0.58, 0.65, 0.6, 0.54, 0.62, 0.56, 0.65, 0.58, 0.52, 0.6, 0.55],
    1996: [0.45, 0.6, 0.4, 0.55, 0.3, 0.45, 0.6, 0.45, 0.35, 0.5, 0.45, 0.52, 0.46, 0.55, 0.5, 0.44, 0.52, 0.46, 0.55, 0.5, 0.56, 0.48, 0.55, 0.5, 0.58, 0.52, 0.45, 0.55, 0.48, 0.4, 0.52, 0.45, 0.6, 0.5, 0.42, 0.55, 0.5],
    1998: [0.9, 1.05, 0.85, 1.1, 0.95, 1.2, 0.9, 1.0, 0.85, 0.95, 0.8, 0.9, 0.85, 0.92, 0.8, 0.88, 0.82, 0.9, 0.95, 0.88, 0.92, 0.85, 0.9, 0.8, 0.75, 0.82, 0.7, 0.78, 0.65, 0.72, 0.6, 0.7, 0.62, 0.55, 0.65, 0.58, 0.62],
    1999: [0.65, 0.5, 0.7, 0.45, 0.6, 0.4, 0.55, 0.65, 0.5, 0.6, 0.55, 0.62, 0.56, 0.64, 0.58, 0.66, 0.6, 0.68, 0.62, 0.7, 0.64, 0.58, 0.66, 0.6, 0.55, 0.62, 0.56, 0.64, 0.58, 0.52, 0.6, 0.54, 0.48, 0.58, 0.52, 0.62, 0.55],
    2000: [0.55, 0.4, 0.6, 0.45, 0.7, 0.5, 0.65, 0.55, 0.7, 0.6, 0.52, 0.62, 0.55, 0.65, 0.58, 0.62, 0.55, 0.6, 0.68, 0.6, 0.65, 0.58, 0.66, 0.6, 0.55, 0.62, 0.58, 0.52, 0.6, 0.5, 0.58, 0.5, 0.45, 0.55, 0.48, 0.6, 0.52],
    2002: [0.85, 1.0, 0.9, 1.05, 0.95, 0.85, 1.0, 0.9, 1.05, 0.92, 0.85, 0.9, 0.84, 0.9, 0.85, 0.8, 0.86, 0.8, 0.85, 0.9, 0.84, 0.88, 0.82, 0.86, 0.8, 0.86, 0.82, 0.88, 0.84, 0.9, 0.86, 0.8, 0.88, 0.82, 0.9, 0.84, 0.78],
    2003: [0.8, 0.95, 0.75, 0.6, 0.8, 0.7, 0.85, 0.7, 0.8, 0.72, 0.8, 0.75, 0.82, 0.76, 0.7, 0.78, 0.72, 0.8, 0.75, 0.82, 0.78, 0.84, 0.78, 0.72, 0.8, 0.74, 0.82, 0.76, 0.85, 0.78, 0.9, 0.8, 0.72, 0.85, 0.78, 0.88, 0.8],
    2005: [0.85, 0.7, 0.9, 0.65, 0.8, 0.95, 0.75, 0.9, 0.8, 0.88, 0.8, 0.85, 0.78, 0.86, 0.8, 0.84, 0.9, 0.82, 0.86, 0.8, 0.88, 0.82, 0.86, 0.9, 0.84, 0.88, 0.8, 0.86, 0.92, 0.85, 0.95, 0.82, 0.9, 1.0, 0.85, 0.78, 0.88],
    2007: [1.3, 1.45, 1.2, 1.05, 1.15, 0.95, 1.1, 1.0, 0.9, 0.95, 0.85, 0.92, 0.86, 0.9, 0.82, 0.88, 0.8, 0.86, 0.82, 0.88, 0.84, 0.9, 0.86, 0.8, 0.84, 0.78, 0.82, 0.76, 0.8, 0.72, 0.82, 0.75, 0.7, 0.8, 0.72, 0.78, 0.7],
    2008: [0.45, 0.6, 0.5, 0.35, 0.55, 0.45, 0.6, 0.52, 0.7, 0.6, 0.68, 0.62, 0.7, 0.64, 0.72, 0.66, 0.74, 0.7, 0.76, 0.72, 0.78, 0.74, 0.7, 0.76, 0.72, 0.78, 0.74, 0.8, 0.76, 0.82, 0.76, 0.7, 0.78, 0.72, 0.68, 0.76, 0.7],
    2010: [0.9, 1.05, 0.95, 1.15, 1.0, 1.2, 1.1, 1.25, 1.05, 1.15, 1.05, 1.1, 1.0, 1.06, 0.98, 1.04, 0.96, 1.02, 1.08, 1.0, 1.06, 0.98, 1.04, 0.96, 1.0, 0.92, 0.98, 0.9, 0.96, 0.88, 0.8, 0.92, 0.85, 0.95, 0.82, 0.75, 0.85],
    2012: [0.6, 0.75, 0.55, 0.7, 0.5, 0.65, 0.8, 0.7, 0.85, 0.75, 0.88, 0.8, 0.9, 0.84, 0.92, 0.86, 0.94, 0.9, 0.98, 0.92, 0.96, 0.9, 0.95, 0.88, 0.94, 0.9, 0.98, 0.92, 1.0, 0.95, 1.05, 0.98, 1.1, 0.95, 0.88, 0.98, 0.9],
    2013: [0.85, 0.95, 0.8, 0.95, 0.85, 1.0, 0.9, 0.8, 0.9, 0.85, 0.92, 0.86, 0.94, 0.88, 0.95, 0.9, 0.96, 0.92, 0.98, 0.94, 1.0, 0.96, 0.92, 0.98, 0.94, 1.0, 0.96, 1.02, 0.98, 1.04, 0.98, 0.92, 1.05, 0.98, 1.08, 1.0, 0.95],
    2015: [0.95, 1.1, 0.9, 1.2, 1.0, 1.15, 1.05, 1.2, 1.1, 1.0, 1.08, 1.0, 1.06, 1.12, 1.05, 1.1, 1.04, 1.1, 1.06, 1.12, 1.08, 1.14, 1.1, 1.16, 1.12, 1.18, 1.22, 1.16, 1.25, 1.3, 1.2, 1.35, 1.42, 1.3, 1.45, 1.38, 1.5],
    2016: [1.4, 1.25, 1.45, 1.35, 1.55, 1.7, 1.5, 1.6, 1.4, 1.3, 1.35, 1.25, 1.2, 1.15, 1.22, 1.14, 1.1, 1.16, 1.12, 1.18, 1.14, 1.2, 1.16, 1.1, 1.15, 1.08, 1.12, 1.05, 1.1, 1.02, 1.08, 0.98, 1.05, 1.12, 0.95, 1.05, 1.0],
    2017: [1.15, 1.3, 1.2, 1.4, 1.3, 1.45, 1.3, 1.4, 1.25, 1.3, 1.2, 1.25, 1.15, 1.2, 1.12, 1.18, 1.1, 1.16, 1.2, 1.14, 1.18, 1.12, 1.16, 1.1, 1.15, 1.08, 1.14, 1.2, 1.12, 1.18, 1.1, 1.16, 1.22, 1.14, 1.1, 1.18, 1.12],
    2019: [1.1, 1.25, 1.0, 1.15, 1.3, 1.1, 1.35, 1.2, 1.3, 1.15, 1.22, 1.12, 1.2, 1.14, 1.1, 1.18, 1.12, 1.2, 1.25, 1.18, 1.22, 1.16, 1.14, 1.2, 1.12, 1.18, 1.22, 1.15, 1.24, 1.18, 1.28, 1.2, 1.35, 1.4, 1.3, 1.45, 1.35],
    2021: [1.05, 0.95, 1.1, 0.9, 1.05, 0.85, 1.0, 0.95, 1.05, 1.12, 1.0, 1.08, 1.02, 1.06, 1.0, 1.06, 1.1, 1.04, 1.1, 1.14, 1.08, 1.12, 1.16, 1.1, 1.14, 1.08, 1.14, 1.2, 1.12, 1.18, 1.24, 1.16, 1.1, 1.2, 1.28, 1.2, 1.15],
    2022: [1.0, 1.15, 0.95, 1.1, 1.2, 1.05, 1.15, 1.0, 1.1, 1.18, 1.05, 1.12, 1.06, 1.1, 1.04, 1.1, 1.14, 1.08, 1.12, 1.16, 1.1, 1.14, 1.08, 1.12, 1.06, 1.1, 1.04, 1.1, 1.15, 1.08, 1.2, 1.1, 1.25, 1.15, 1.05, 1.18, 1.1],
}

# f. Cumulative area burned in Canada (million ha)
fire_2023 = [0.0, 0.4, 0.7, 0.9, 1.8, 2.1, 3.0, 4.2, 5.2, 5.6, 6.3, 7.6, 8.1, 8.7,
             9.4, 10.9, 11.2, 11.5, 12.2, 12.8, 13.3, 14.3, 14.8, 15.1, 15.8, 16.3, 16.4, 16.7]
fire_years = {
    1991: [0, 0.05, 0.1, 0.2, 0.3, 0.5, 0.8, 1.0, 1.1, 1.2, 1.3, 1.35, 1.4, 1.45, 1.45, 1.5],
    1994: [0, 0.1, 0.2, 0.3, 0.4, 0.6, 1.2, 2.0, 2.8, 3.5, 3.8, 3.9, 4.0, 4.0, 4.0, 4.0],
    1995: [0, 0.1, 0.3, 0.5, 0.7, 1.5, 3.0, 3.9, 4.2, 4.4, 4.5, 4.55, 4.6, 4.6, 4.6, 4.6],
    1998: [0, 0.2, 0.4, 0.6, 0.8, 1.0, 1.6, 2.4, 2.9, 3.1, 3.2, 3.3, 3.3, 3.35, 3.35, 3.35],
    2002: [0, 0.1, 0.5, 0.7, 0.9, 1.2, 1.5, 1.7, 1.9, 2.0, 2.1, 2.15, 2.2, 2.2, 2.2, 2.2],
    2004: [0, 0.05, 0.1, 0.15, 0.3, 0.5, 0.9, 1.6, 2.1, 2.3, 2.4, 2.45, 2.5, 2.5, 2.5, 2.5],
    2010: [0, 0.1, 0.2, 0.4, 0.6, 0.8, 1.0, 1.4, 1.9, 2.2, 2.5, 2.7, 2.8, 2.85, 2.9, 2.9],
    2011: [0, 0.3, 0.6, 0.7, 0.8, 0.9, 1.1, 1.3, 1.6, 1.8, 1.9, 1.95, 2.0, 2.0, 2.0, 2.0],
    2013: [0, 0.05, 0.1, 0.2, 0.3, 0.6, 1.5, 2.5, 3.1, 3.4, 3.5, 3.6, 3.7, 3.7, 3.75, 3.75],
    2014: [0, 0.05, 0.1, 0.15, 0.3, 0.5, 1.0, 1.8, 2.8, 3.4, 3.7, 3.9, 4.0, 4.1, 4.1, 4.1],
    2017: [0, 0.05, 0.1, 0.15, 0.2, 0.3, 0.6, 1.2, 1.8, 2.3, 2.6, 2.8, 2.9, 3.0, 3.0, 3.0],
    2019: [0, 0.3, 0.7, 0.8, 0.9, 1.0, 1.1, 1.2, 1.3, 1.35, 1.4, 1.4, 1.4, 1.4, 1.4, 1.4],
    2020: [0, 0.01, 0.02, 0.03, 0.05, 0.08, 0.1, 0.12, 0.15, 0.18, 0.2, 0.2, 0.2, 0.2, 0.2, 0.2],
    2021: [0, 0.05, 0.1, 0.2, 0.3, 0.5, 1.0, 1.8, 2.6, 3.3, 3.8, 4.0, 4.1, 4.15, 4.2, 4.2],
    2022: [0, 0.02, 0.05, 0.1, 0.15, 0.3, 0.5, 0.8, 1.0, 1.2, 1.4, 1.5, 1.55, 1.6, 1.6, 1.6],
}

x_tick_vals = ["2023-01-01", "2023-04-01", "2023-07-01", "2023-10-01"]
x_tick_text = ["Jan 01", "Apr 01", "Jul 01", "Oct 01"]
x_minor_vals = ["2023-02-15", "2023-05-16", "2023-08-16", "2023-11-15"]

# ---------------------------------------------------------------------------
# Styling helpers
# ---------------------------------------------------------------------------
W, H = 740, 742
FONT = "Liberation Sans, Arial, sans-serif"
TXT = "#e6e6e6"
RED = "#e3262b"
YEAR_MIN, YEAR_MAX = 1991, 2022
GRAY_SCALE = [[0, "rgb(32,32,32)"], [1, "rgb(205,205,205)"]]


def px_x(x):
    return x / W


def px_y(y):
    return 1 - y / H


def to_dates(days):
    return pd.Timestamp("2023-01-01") + pd.to_timedelta(np.array(days) - 1, unit="D")


def year_gray(year):
    v = int(round(32 + (year - YEAR_MIN) / (YEAR_MAX - YEAR_MIN) * (205 - 32)))
    return f"rgb({v},{v},{v})"


# column x-extents and row y-extents (pixels)
COLS = [(35, 362), (413, 739)]
PLOT_ROWS = [(55, 212), (276, 431), (498, 655)]
STRIP_ROWS = [(3, 53), (222, 274), (444, 496)]

panels = [
    dict(letter="a.", title="Antarctic sea ice extent<br>(10<sup>6</sup> km<sup>2</sup>; rel. to 1991\u22122023 mean)",
         gray=ant_ice_years, red=ant_ice_2023, days=GRAY_DAYS, red_days=RED_DAYS,
         yrange=[-2.9, 2.83], yticks=[-2, -1, 0, 1, 2], ytext=["-2", "-1", "0", "1", "2"], ydminor=0.5),
    dict(letter="b.", title="Global sea ice extent<br>(10<sup>6</sup> km<sup>2</sup>; rel. to 1991\u22122023 mean)",
         gray=glob_ice_years, red=glob_ice_2023, days=GRAY_DAYS, red_days=RED_DAYS,
         yrange=[-3.98, 2.89], yticks=[-2, 0, 2], ytext=["-2", "0", "2"], ydminor=1),
    dict(letter="c.", title="North Atlantic ocean sea surface temp.<br>anomaly (\u00b0C; rel. to 1991\u22122023 mean)",
         gray=natl_sst_years, red=natl_sst_2023, days=GRAY_DAYS, red_days=RED_DAYS,
         yrange=[-1.02, 1.42], yticks=[-1, -0.5, 0, 0.5, 1], ytext=["-1.0", "-0.5", "0.0", "0.5", "1.0"], ydminor=0.25),
    dict(letter="d.", title="World ocean sea surface temp. anomaly<br>(\u00b0C; rel. to 1991\u22122023 mean; 60S\u221260N)",
         gray=world_sst_years, red=world_sst_2023, days=GRAY_DAYS, red_days=RED_DAYS,
         yrange=[-0.505, 0.72], yticks=[-0.5, -0.25, 0, 0.25, 0.5],
         ytext=["-0.50", "-0.25", "0.00", "0.25", "0.50"], ydminor=0.125),
    dict(letter="e.", title="World surface temp.<br>(\u00b0C; 2 m height; rel. to 1850\u22121900 mean)",
         gray=surf_temp_years, red=surf_temp_2023, days=GRAY_DAYS, red_days=RED_DAYS,
         yrange=[-0.02, 1.79], yticks=[0, 0.5, 1, 1.5], ytext=["0.0", "0.5", "1.0", "1.5"], ydminor=0.25),
    dict(letter="f.", title="Cumulative area burned in Canada<br>(million hectares)",
         gray=fire_years, red=fire_2023, days=FIRE_GRAY_DAYS, red_days=FIRE_RED_DAYS,
         yrange=[-0.7, 17.4], yticks=[0, 5, 10, 15], ytext=["0", "5", "10", "15"], ydminor=2.5),
]

fig = go.Figure()
shapes = []
annotations = []

for i, p in enumerate(panels):
    row, col = divmod(i, 2)
    n = i + 1
    xa = "x" if n == 1 else f"x{n}"
    ya = "y" if n == 1 else f"y{n}"
    xl, xr = COLS[col]
    yt, yb = PLOT_ROWS[row]
    st, sb = STRIP_ROWS[row]

    # gray lines, oldest first so the lightest sit on top
    for year in sorted(p["gray"]):
        fig.add_trace(go.Scatter(
            x=to_dates(p["days"]), y=p["gray"][year], mode="lines",
            line=dict(color=year_gray(year), width=1.3),
            xaxis=xa, yaxis=ya, showlegend=False, name=str(year),
            hoverinfo="skip",
        ))
    fig.add_trace(go.Scatter(
        x=to_dates(p["red_days"]), y=p["red"], mode="lines",
        line=dict(color=RED, width=3.2),
        xaxis=xa, yaxis=ya, name="2023", showlegend=(i == 0),
        legendgroup="2023",
    ))

    bottom = row == 2
    fig.layout[f"xaxis{'' if n == 1 else n}"] = dict(
        domain=[px_x(xl), px_x(xr)], anchor=ya,
        type="date", range=["2023-01-01", "2023-12-31"],
        tickvals=x_tick_vals, ticktext=x_tick_text,
        showticklabels=bottom, ticks="outside" if bottom else "",
        ticklen=4, tickcolor="#bdbdbd", tickwidth=1.5,
        tickfont=dict(family=FONT, size=14.5, color=TXT),
        showgrid=True, gridcolor="#2e2e2e", gridwidth=1,
        minor=dict(tickvals=x_minor_vals, showgrid=True, gridcolor="#181818", ticks=""),
        showline=True, linecolor="#a8a8a8", linewidth=1, mirror=True,
        zeroline=False, fixedrange=True,
    )
    fig.layout[f"yaxis{'' if n == 1 else n}"] = dict(
        domain=[px_y(yb), px_y(yt)], anchor=xa,
        range=p["yrange"], tickvals=p["yticks"], ticktext=p["ytext"],
        ticks="outside", ticklen=4, tickcolor="#bdbdbd", tickwidth=1.5,
        tickfont=dict(family=FONT, size=14.5, color=TXT),
        showgrid=True, gridcolor="#2e2e2e", gridwidth=1,
        minor=dict(dtick=p["ydminor"], tick0=0, showgrid=True, gridcolor="#181818", ticks=""),
        showline=True, linecolor="#a8a8a8", linewidth=1, mirror=True,
        zeroline=False, fixedrange=True,
    )

    # facet strip
    shapes.append(dict(
        type="rect", xref="paper", yref="paper",
        x0=px_x(xl), x1=px_x(xr), y0=px_y(sb), y1=px_y(st),
        fillcolor="#333333", line=dict(color="#a8a8a8", width=1), layer="below",
    ))
    annotations.append(dict(
        xref="paper", yref="paper", x=px_x((xl + xr) / 2), y=px_y((st + sb) / 2),
        text=p["title"], showarrow=False, xanchor="center", yanchor="middle",
        font=dict(family=FONT, size=14, color=TXT), align="center",
    ))
    annotations.append(dict(
        xref="paper", yref="paper", x=px_x(xl + 7), y=px_y((st + sb) / 2 - 1),
        text=p["letter"], showarrow=False, xanchor="left", yanchor="middle",
        font=dict(family=FONT, size=19, color=TXT),
    ))

# colour bar for the year scale
fig.add_trace(go.Scatter(
    x=[None], y=[None], mode="markers", xaxis="x", yaxis="y", showlegend=False,
    hoverinfo="skip",
    marker=dict(
        color=[YEAR_MIN], cmin=YEAR_MIN - 0.5, cmax=YEAR_MAX + 0.5,
        colorscale=GRAY_SCALE, showscale=True,
        colorbar=dict(
            orientation="h", x=px_x(307), xanchor="left", y=px_y(693), yanchor="top",
            len=129, lenmode="pixels", thickness=26, thicknessmode="pixels",
            xpad=0, ypad=0, outlinewidth=0,
            tickvals=[2000, 2010, 2020], ticks="inside", ticklen=5,
            tickcolor="#555555", tickwidth=1.5,
            tickfont=dict(family=FONT, size=14.5, color=TXT),
        ),
    ),
))

annotations.append(dict(
    xref="paper", yref="paper", x=px_x(283), y=px_y(718),
    text="Year", showarrow=False, xanchor="center", yanchor="middle",
    font=dict(family=FONT, size=17.5, color=TXT),
))

fig.update_layout(
    width=W, height=H,
    margin=dict(l=0, r=0, t=0, b=0, autoexpand=False),
    paper_bgcolor="#000000", plot_bgcolor="#000000",
    shapes=shapes, annotations=annotations,
    showlegend=True,
    legend=dict(
        x=px_x(438), y=px_y(706), xanchor="left", yanchor="middle",
        bgcolor="rgba(0,0,0,0)", font=dict(family=FONT, size=14.5, color=TXT),
        itemwidth=30,
    ),
    font=dict(family=FONT, color=TXT),
    hovermode="closest",
)

# remove the default page margin so the figure sits flush in the window
fig.write_html(
    "out.html",
    config={"displayModeBar": False},
    post_script="document.body.style.margin='0px';",
)
